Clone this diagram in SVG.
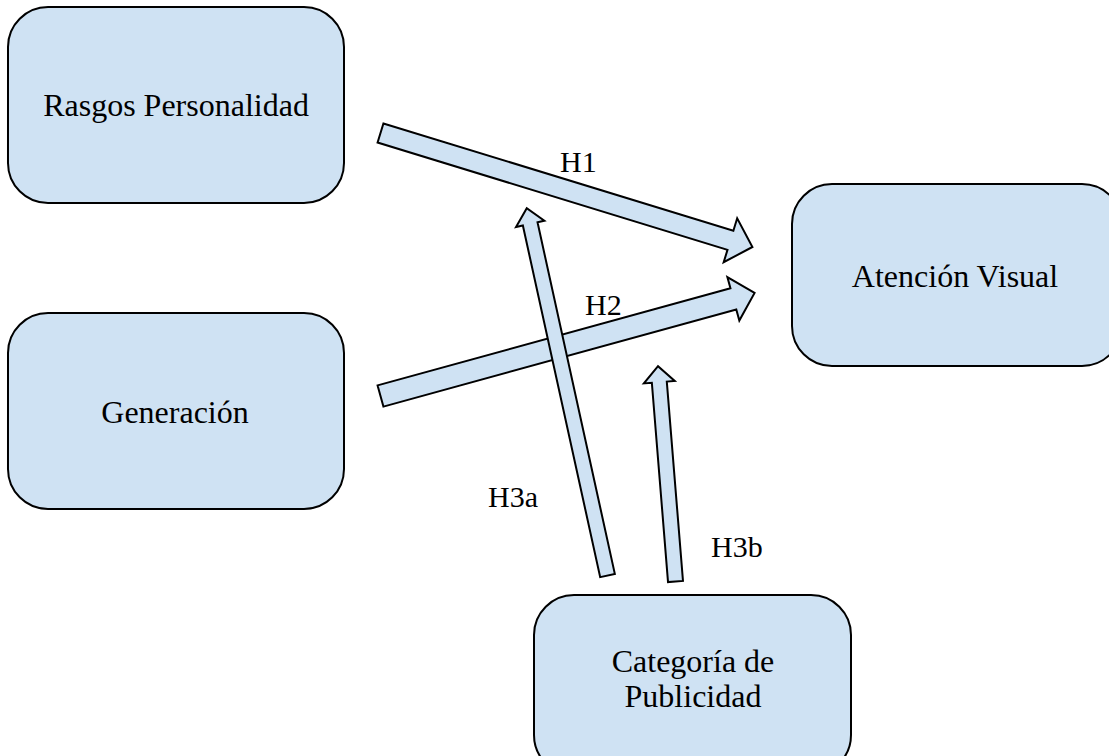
<svg xmlns="http://www.w3.org/2000/svg" width="1109" height="756" viewBox="0 0 1109 756">
<style>
.box{fill:#cfe2f3;stroke:#000;stroke-width:2}
.arr{fill:#cfe2f3;stroke:#000;stroke-width:2;stroke-linejoin:miter}
.t{font-family:"Liberation Serif","Times New Roman",serif;font-size:32px;fill:#000;text-anchor:middle}
.l{font-family:"Liberation Serif","Times New Roman",serif;font-size:30px;fill:#000}
</style>
<rect width="1109" height="756" fill="#fff"/>
<g id="rasgos">
<rect class="box" x="8" y="7" width="336" height="196" rx="40" ry="40"/>
<text class="t" x="176" y="116">Rasgos Personalidad</text>
</g>
<g id="generacion">
<rect class="box" x="8" y="313" width="336" height="196" rx="40" ry="40"/>
<text class="t" x="175" y="423">Generación</text>
</g>
<g id="atencion">
<rect class="box" x="792" y="184" width="330" height="182" rx="40" ry="40"/>
<text class="t" x="955" y="287">Atención Visual</text>
</g>
<g id="categoria">
<rect class="box" x="534" y="595" width="317" height="180" rx="40" ry="40"/>
<text class="t" x="693" y="672">Categoría de</text>
<text class="t" x="693" y="707">Publicidad</text>
</g>
<g id="connectors">
<polygon class="arr" transform="translate(380.5,133) rotate(17.04)" points="0,-10 366,-10 366,-23 389,0 366,23 366,10 0,10"/>
<polygon class="arr" transform="translate(380.5,396) rotate(-15.4)" points="0,-11 366,-11 366,-22.5 388,0 366,22.5 366,11 0,11"/>
<polygon class="arr" transform="translate(607.5,575.5) rotate(-102.4)" points="0,-7.5 360,-7.5 360,-14.5 376,0 360,14.5 360,7.5 0,7.5"/>
<polygon class="arr" transform="translate(675.5,581.5) rotate(-94.64)" points="0,-7.5 200,-7.5 200,-15.5 216,0 200,15.5 200,7.5 0,7.5"/>
<text class="l" x="560" y="172">H1</text>
<text class="l" x="585" y="315">H2</text>
<text class="l" x="488" y="507">H3a</text>
<text class="l" x="711" y="557">H3b</text>
</g>
</svg>
